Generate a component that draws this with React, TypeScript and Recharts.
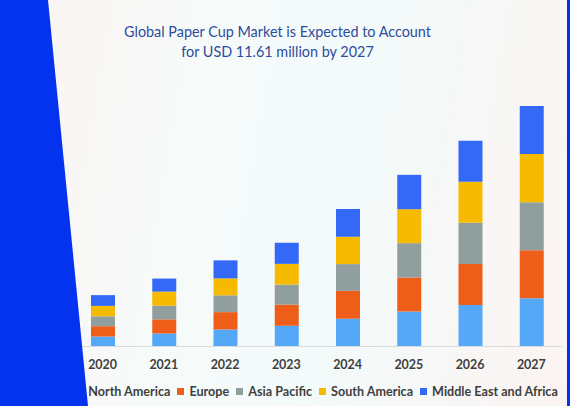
import React from 'react';
import { BarChart, Bar, XAxis, YAxis, Legend } from 'recharts';

const years = ['2020', '2021', '2022', '2023', '2024', '2025', '2026', '2027'];
const northAmerica = [0.48, 0.63, 0.82, 1.0, 1.34, 1.69, 2.0, 2.33];
const europe = [0.5, 0.68, 0.84, 1.02, 1.35, 1.64, 1.98, 2.32];
const asiaPacific = [0.48, 0.66, 0.81, 0.97, 1.29, 1.66, 2.0, 2.32];
const southAmerica = [0.5, 0.68, 0.82, 1.0, 1.32, 1.64, 1.98, 2.32];
const middleEastAfrica = [0.52, 0.63, 0.87, 1.02, 1.34, 1.66, 1.97, 2.32];

const series = [
  { key: 'North America', values: northAmerica, color: '#55A8F8' },
  { key: 'Europe', values: europe, color: '#EE5E18' },
  { key: 'Asia Pacific', values: asiaPacific, color: '#909E9E' },
  { key: 'South America', values: southAmerica, color: '#F6BA00' },
  { key: 'Middle East and Africa', values: middleEastAfrica, color: '#3469F7' },
];

const data = years.map((year, i) => {
  const row: Record<string, string | number> = { year };
  series.forEach(s => { row[s.key] = s.values[i]; });
  return row;
});

const FONT = 'Lato, "Open Sans", sans-serif';

const renderLegend = () => (
  <div style={{ display: 'flex', justifyContent: 'center', alignItems: 'center', height: 24, whiteSpace: 'nowrap',
    fontFamily: FONT, fontWeight: 700, fontSize: 12.6, color: '#3F3F3F' }}>
    {series.map((s, i) => (
      <span key={s.key} style={{ display: 'flex', alignItems: 'center', flexShrink: 0, marginRight: i < series.length - 1 ? 7 : 0 }}>
        <span style={{ width: 7, height: 7, background: s.color, marginRight: 5, display: 'inline-block' }} />
        {s.key}
      </span>
    ))}
  </div>
);

export default function App() {
  return (
    <div style={{ position: 'absolute', left: 0, top: 0, width: 570, height: 406, overflow: 'hidden',
      background: 'linear-gradient(100deg, #FBF3F1 0%, #F6FBFA 35%, #F3FAFA 60%, #FCF4F2 100%)' }}>
      <div style={{ position: 'absolute', left: 0, top: 22, width: 555, textAlign: 'center', fontFamily: FONT, fontSize: 14.4, lineHeight: '20px', color: '#2D4C9E' }}>
        Global Paper Cup Market is Expected to Account<br />for USD 11.61 million by 2027
      </div>
      <div style={{ position: 'absolute', left: 0, top: 0 }}>
        <BarChart width={570} height={406} data={data} margin={{ top: 98, right: 8, left: 72, bottom: 3 }} barSize={24}>
          <XAxis dataKey="year" tickLine={false} tickSize={0} tickMargin={14} height={32.5}
            axisLine={{ stroke: '#D8DCDC' }} tick={{ fill: '#404040', fontSize: 12.5, fontWeight: 700, fontFamily: FONT }} />
          <YAxis hide domain={[0, 12]} />
          <Legend verticalAlign="bottom" content={renderLegend} wrapperStyle={{ height: 24 }} />
          {series.map(s => (
            <Bar key={s.key} dataKey={s.key} stackId="a" fill={s.color} isAnimationActive={false} />
          ))}
        </BarChart>
      </div>
      <svg width={570} height={406} style={{ position: 'absolute', left: 0, top: 0, pointerEvents: 'none' }}>
        <polygon points="0,0 48,0 88,406 0,406" fill="#0433F0" />
        <rect x={567} y={0} width={3} height={406} fill="#0433F0" />
      </svg>
    </div>
  );
}
